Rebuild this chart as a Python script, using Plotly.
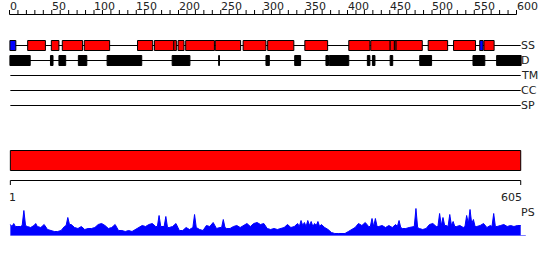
import plotly.graph_objects as go

# ---------------- data ----------------
seq_length = 605
axis_ticks = list(range(0, 601, 10))
axis_labels = ["0", "50", "100", "150", "200", "250", "300", "350", "400", "450", "500", "550", "600"]
axis_label_pos = [0, 50, 100, 150, 200, 250, 300, 350, 400, 450, 500, 550, 600]

# secondary structure: helices (red) and strands (blue)
helix_start = [22, 50, 63, 89, 152, 172, 195, 200, 209, 244, 277, 306, 350, 402, 428, 451, 456, 458, 496, 526, 562]
helix_end   = [42, 58, 86, 118, 169, 194, 197, 206, 242, 273, 303, 336, 376, 426, 450, 455, 457, 488, 518, 551, 573]
strand_start = [1, 557]
strand_end   = [7, 560]

# disorder
dis_start = [1, 49, 59, 82, 116, 193, 248, 304, 338, 375, 379, 424, 430, 451, 486, 549, 577]
dis_end   = [24, 51, 66, 91, 156, 213, 248, 307, 344, 377, 401, 426, 432, 453, 499, 562, 605]

track_names = ["SS", "D", "TM", "CC", "SP"]

# PS profile
ps_pos = [1, 3, 5, 7, 9, 13, 15, 17, 19, 21, 25, 29, 31, 33, 37, 41, 45, 49, 53, 57,
          61, 65, 67, 69, 71, 73, 77, 81, 85, 89, 93, 97, 101, 105, 109, 113, 117, 121, 125, 129,
          133, 137, 141, 145, 149, 153, 157, 161, 165, 169, 173, 175, 177, 179, 183, 185, 187, 189, 193, 197,
          201, 205, 209, 213, 217, 219, 221, 225, 229, 233, 237, 241, 245, 249, 251, 253, 255, 257, 261, 265,
          269, 273, 277, 281, 285, 289, 293, 297, 301, 305, 309, 313, 317, 321, 325, 329, 333, 337, 341, 343,
          345, 347, 349, 351, 353, 355, 357, 359, 361, 363, 365, 367, 369, 373, 377, 381, 385, 389, 393, 397,
          401, 405, 409, 413, 417, 421, 425, 427, 429, 431, 433, 435, 437, 441, 445, 449, 453, 457, 459, 461,
          463, 465, 469, 473, 477, 479, 481, 483, 485, 489, 493, 497, 501, 505, 507, 509, 511, 513, 515, 517,
          519, 521, 523, 525, 527, 529, 533, 537, 539, 541, 543, 545, 547, 549, 551, 553, 557, 561, 565, 569,
          571, 573, 575, 577, 581, 585, 589, 593, 597, 601, 605]
ps_val = [11, 9, 12, 9, 9, 9, 10, 25, 10, 9, 8, 10, 12, 9, 8, 11, 6, 5, 4, 4,
          5, 9, 10, 18, 11, 11, 8, 7, 9, 6, 7, 7, 8, 11, 12, 10, 7, 8, 11, 5,
          5, 4, 5, 4, 6, 8, 10, 9, 11, 12, 9, 9, 20, 9, 9, 19, 8, 8, 9, 12,
          5, 5, 8, 6, 8, 21, 8, 6, 5, 10, 9, 13, 7, 8, 8, 16, 8, 7, 7, 9,
          10, 8, 10, 12, 9, 12, 13, 11, 12, 7, 6, 7, 6, 7, 8, 11, 8, 9, 12, 9,
          15, 10, 13, 9, 15, 10, 14, 9, 12, 10, 14, 9, 11, 8, 6, 3, 2, 2, 2, 2,
          4, 6, 8, 12, 10, 13, 9, 9, 17, 9, 17, 9, 9, 10, 8, 10, 8, 11, 9, 15,
          8, 7, 7, 8, 9, 9, 27, 8, 7, 6, 7, 11, 12, 9, 9, 22, 10, 18, 10, 10,
          9, 21, 10, 14, 9, 9, 10, 8, 9, 20, 12, 26, 12, 16, 9, 9, 10, 12, 8, 10,
          9, 22, 9, 9, 10, 11, 9, 10, 9, 10, 10]

# ---------------- layout geometry (pixels) ----------------
PX_PER_RES = 0.845
X0_PX = 9.5
W, H = 550, 260
FONT = "DejaVu Sans"

fig = go.Figure()

shapes = []
annotations = []

# top ruler
shapes.append(dict(type="line", xref="x", yref="y", x0=0, x1=600, y0=14.5, y1=14.5,
                   line=dict(color="black", width=1)))
for t in axis_ticks:
    shapes.append(dict(type="line", xref="x", yref="y", x0=t, x1=t, y0=14.5, y1=10,
                       line=dict(color="black", width=1)))
for p, lab in zip(axis_label_pos, axis_labels):
    annotations.append(dict(x=p, y=6, xref="x", yref="y", text=lab, showarrow=False,
                            xanchor="left", yanchor="middle", xshift=-2,
                            font=dict(family=FONT, size=11, color="#222")))

# track lines and names
track_y = [45.5, 60.5, 75.5, 90.5, 105.5]
for name, ty in zip(track_names, track_y):
    shapes.append(dict(type="line", xref="x", yref="y", x0=1, x1=seq_length, y0=ty, y1=ty,
                       line=dict(color="black", width=1)))
    annotations.append(dict(x=seq_length, y=ty, xref="x", yref="y", text=name, showarrow=False,
                            xanchor="left", yanchor="middle", xshift=-2,
                            font=dict(family=FONT, size=11, color="#222")))

# SS boxes
for s, e in zip(helix_start, helix_end):
    shapes.append(dict(type="rect", xref="x", yref="y", x0=s - 0.5, x1=e + 0.5, y0=40.5, y1=50.5,
                       fillcolor="#ff0000", line=dict(color="black", width=1)))
for s, e in zip(strand_start, strand_end):
    shapes.append(dict(type="rect", xref="x", yref="y", x0=s - 0.5, x1=e + 0.5, y0=40.5, y1=50.5,
                       fillcolor="#0000ff", line=dict(color="black", width=1)))
# disorder boxes
for s, e in zip(dis_start, dis_end):
    shapes.append(dict(type="rect", xref="x", yref="y", x0=s - 0.5, x1=e + 0.5, y0=55.5, y1=65.5,
                       fillcolor="black", line=dict(color="black", width=1)))

# full-length domain bar
shapes.append(dict(type="rect", xref="x", yref="y", x0=1, x1=seq_length, y0=150.5, y1=170.5,
                   fillcolor="#ff0000", line=dict(color="black", width=1)))
# bottom ruler
shapes.append(dict(type="line", xref="x", yref="y", x0=1, x1=seq_length, y0=180.5, y1=180.5,
                   line=dict(color="black", width=1)))
for t in [1, seq_length]:
    shapes.append(dict(type="line", xref="x", yref="y", x0=t, x1=t, y0=180.5, y1=185,
                       line=dict(color="black", width=1)))
annotations.append(dict(x=1, y=197, xref="x", yref="y", text="1", showarrow=False,
                        xanchor="left", yanchor="middle", xshift=-3,
                        font=dict(family=FONT, size=11, color="#222")))
annotations.append(dict(x=seq_length, y=197, xref="x", yref="y", text=str(seq_length), showarrow=False,
                        xanchor="right", yanchor="middle", xshift=3,
                        font=dict(family=FONT, size=11, color="#222")))
annotations.append(dict(x=seq_length, y=212, xref="x", yref="y", text="PS", showarrow=False,
                        xanchor="left", yanchor="middle", xshift=-2,
                        font=dict(family=FONT, size=11, color="#222")))

# PS baseline
shapes.append(dict(type="line", xref="x", yref="y2", x0=1, x1=611, y0=0, y1=0,
                   line=dict(color="#0000ff", width=1)))

# invisible trace to hold main axes
fig.add_trace(go.Scatter(x=[0], y=[0], mode="markers", marker=dict(opacity=0),
                         showlegend=False, hoverinfo="skip"))
# PS area
fig.add_trace(go.Scatter(x=ps_pos, y=ps_val, mode="lines", fill="tozeroy",
                         line=dict(color="#0000ff", width=1), fillcolor="#0000ff",
                         yaxis="y2", showlegend=False, hoverinfo="skip"))

xmin = -X0_PX / PX_PER_RES
xmax = (W - X0_PX) / PX_PER_RES
base_px, top_px = 235.5, 205.0
fig.update_layout(
    width=W, height=H,
    margin=dict(l=0, r=0, t=0, b=0),
    paper_bgcolor="white", plot_bgcolor="white",
    xaxis=dict(range=[xmin, xmax], visible=False, fixedrange=True),
    yaxis=dict(range=[H, 0], visible=False, domain=[0, 1]),
    yaxis2=dict(range=[0, base_px - top_px], visible=False, anchor="x",
                domain=[(H - base_px) / H, (H - top_px) / H]),
    shapes=shapes, annotations=annotations,
)
fig.write_html("out.html")
